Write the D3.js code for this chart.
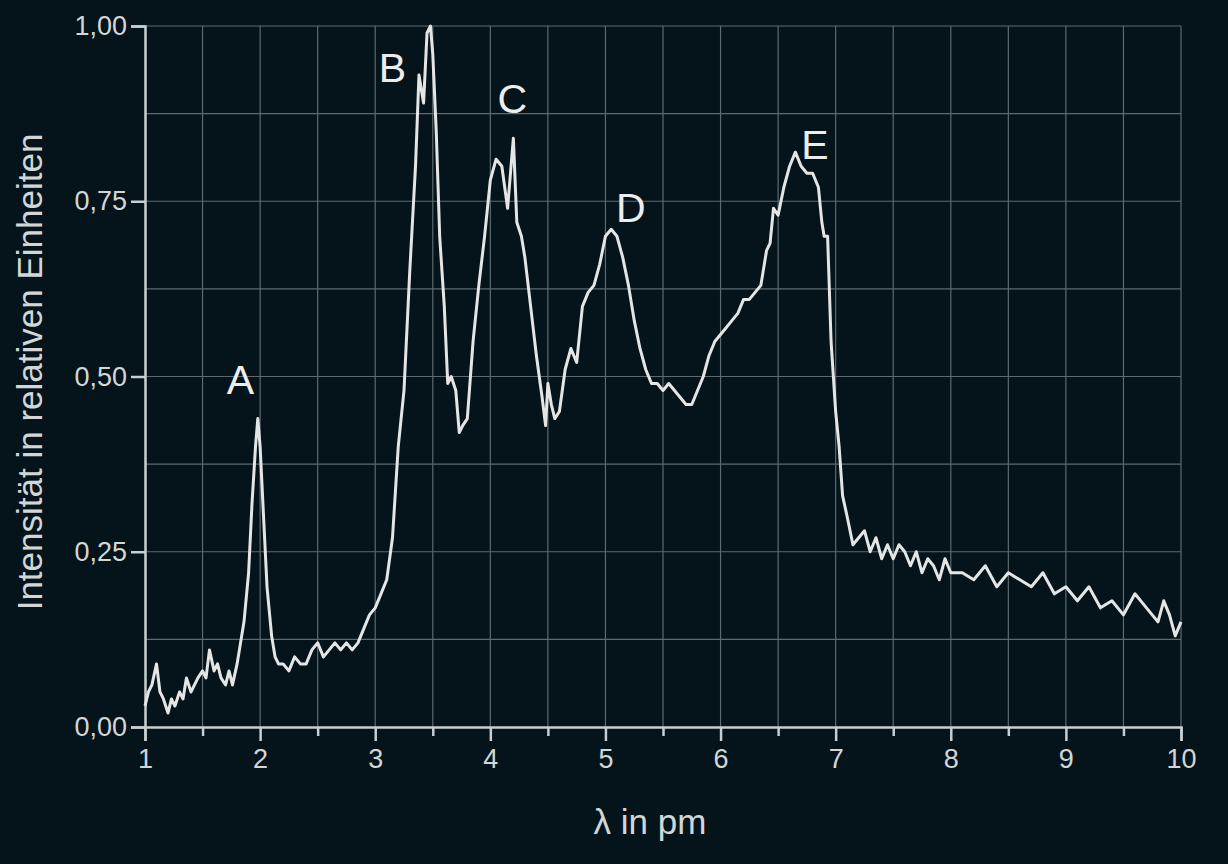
<!DOCTYPE html>
<html>
<head>
<meta charset="utf-8">
<script src="https://cdn.jsdelivr.net/npm/d3@7"></script>
<style>
  body { margin: 0; background: #04141a; }
  svg { display: block; }
  text { font-family: "Liberation Sans", Arial, sans-serif; }
</style>
</head>
<body>
<svg width="1228" height="864"></svg>
<script>
// wavelength (pm) and relative intensity
var lambda = [1.0,1.03,1.06,1.1,1.13,1.16,1.2,1.23,1.26,1.3,1.33,1.36,1.4,1.43,1.46,1.5,1.53,1.56,1.6,1.63,1.66,1.7,1.73,1.76,1.8,1.83,1.86,1.9,1.93,1.96,1.98,2.0,2.03,2.06,2.1,2.13,2.16,2.2,2.25,2.3,2.35,2.4,2.45,2.5,2.55,2.6,2.65,2.7,2.75,2.8,2.85,2.9,2.95,3.0,3.05,3.1,3.15,3.2,3.25,3.3,3.35,3.38,3.42,3.45,3.48,3.5,3.53,3.56,3.6,3.63,3.66,3.7,3.73,3.76,3.8,3.85,3.9,3.95,4.0,4.05,4.1,4.15,4.18,4.2,4.23,4.27,4.3,4.35,4.4,4.45,4.48,4.5,4.53,4.56,4.6,4.65,4.7,4.75,4.8,4.85,4.9,4.95,5.0,5.05,5.1,5.15,5.2,5.25,5.3,5.35,5.4,5.45,5.5,5.55,5.6,5.65,5.7,5.75,5.8,5.85,5.9,5.95,6.0,6.05,6.1,6.15,6.2,6.25,6.3,6.35,6.4,6.43,6.46,6.5,6.55,6.6,6.65,6.7,6.75,6.8,6.85,6.88,6.9,6.93,6.96,7.0,7.03,7.06,7.1,7.15,7.2,7.25,7.3,7.35,7.4,7.45,7.5,7.55,7.6,7.65,7.7,7.75,7.8,7.85,7.9,7.95,8.0,8.1,8.2,8.3,8.4,8.5,8.6,8.7,8.8,8.9,9.0,9.1,9.2,9.3,9.4,9.5,9.6,9.7,9.8,9.85,9.9,9.95,10.0];
var intensity = [0.03,0.05,0.06,0.09,0.05,0.04,0.02,0.04,0.03,0.05,0.04,0.07,0.05,0.06,0.07,0.08,0.07,0.11,0.08,0.09,0.07,0.06,0.08,0.06,0.09,0.12,0.15,0.22,0.32,0.40,0.44,0.40,0.30,0.20,0.13,0.10,0.09,0.09,0.08,0.10,0.09,0.09,0.11,0.12,0.10,0.11,0.12,0.11,0.12,0.11,0.12,0.14,0.16,0.17,0.19,0.21,0.27,0.40,0.48,0.65,0.80,0.93,0.89,0.99,1.00,0.96,0.85,0.70,0.60,0.49,0.50,0.48,0.42,0.43,0.44,0.55,0.63,0.70,0.78,0.81,0.80,0.74,0.80,0.84,0.72,0.70,0.67,0.60,0.53,0.47,0.43,0.49,0.46,0.44,0.45,0.51,0.54,0.52,0.60,0.62,0.63,0.66,0.70,0.71,0.70,0.67,0.63,0.58,0.54,0.51,0.49,0.49,0.48,0.49,0.48,0.47,0.46,0.46,0.48,0.50,0.53,0.55,0.56,0.57,0.58,0.59,0.61,0.61,0.62,0.63,0.68,0.69,0.74,0.73,0.77,0.80,0.82,0.80,0.79,0.79,0.77,0.72,0.70,0.70,0.55,0.45,0.40,0.33,0.30,0.26,0.27,0.28,0.25,0.27,0.24,0.26,0.24,0.26,0.25,0.23,0.25,0.22,0.24,0.23,0.21,0.24,0.22,0.22,0.21,0.23,0.20,0.22,0.21,0.20,0.22,0.19,0.20,0.18,0.20,0.17,0.18,0.16,0.19,0.17,0.15,0.18,0.16,0.13,0.15];

var peakNames = ["A","B","C","D","E"];
var peakX = [1.83,3.15,4.19,5.22,6.82];
var peakY = [0.475,0.92,0.876,0.72,0.81];

var xTicks = [1,2,3,4,5,6,7,8,9,10];
var yTicks = [0,0.25,0.5,0.75,1];

var svg = d3.select("svg");
var plotLeft = 145, plotRight = 1181, plotTop = 26, plotBottom = 727;

var x = d3.scaleLinear().domain([1, 10]).range([plotLeft, plotRight]);
var y = d3.scaleLinear().domain([0, 1]).range([plotBottom, plotTop]);

var gridColor = "#5d6a6e";
var axisColor = "#c9cfd0";

// grid: every half pm, every 0.125 intensity
svg.append("g").selectAll("line").data(d3.range(1.5, 10.01, 0.5)).enter().append("line")
    .attr("x1", d => x(d)).attr("x2", d => x(d))
    .attr("y1", plotTop).attr("y2", plotBottom)
    .attr("stroke", gridColor).attr("stroke-width", 1.2);
svg.append("g").selectAll("line").data(d3.range(0.125, 1.001, 0.125)).enter().append("line")
    .attr("x1", plotLeft).attr("x2", plotRight)
    .attr("y1", d => y(d)).attr("y2", d => y(d))
    .attr("stroke", gridColor).attr("stroke-width", 1.2);

// axes
svg.append("g").attr("class", "ax").attr("transform", "translate(0," + plotBottom + ")")
    .call(d3.axisBottom(x).tickValues(xTicks).tickFormat(d3.format("d")).tickSize(14).tickPadding(8));
svg.append("g").attr("transform", "translate(0," + plotBottom + ")")
    .call(d3.axisBottom(x).tickValues(d3.range(1.5, 10, 1)).tickFormat("").tickSize(9))
    .select(".domain").remove();
svg.append("g").attr("class", "ax").attr("transform", "translate(" + plotLeft + ",0)")
    .call(d3.axisLeft(y).tickValues(yTicks).tickFormat(d => d3.format(".2f")(d).replace(".", ",")).tickSize(14).tickPadding(4));

svg.selectAll(".ax").attr("font-size", 27).attr("font-family", null);
svg.selectAll(".domain, .tick line").attr("stroke", axisColor).attr("stroke-width", 2.5);
svg.selectAll(".tick text").attr("fill", "#d2d6d7");

// curve
var line = d3.line().x((d, i) => x(lambda[i])).y(d => y(d));
svg.append("path").datum(intensity)
    .attr("d", line)
    .attr("fill", "none")
    .attr("stroke", "#e4e6e6")
    .attr("stroke-width", 3)
    .attr("stroke-linejoin", "round");

// peak labels
svg.append("g").selectAll("text").data(peakNames).enter().append("text")
    .attr("x", (d, i) => x(peakX[i]))
    .attr("y", (d, i) => y(peakY[i]))
    .attr("text-anchor", "middle")
    .attr("fill", "#eceeee")
    .attr("font-size", 41)
    .attr("font-weight", 500)
    .text(d => d);

// axis titles
svg.append("text")
    .attr("x", 650).attr("y", 834)
    .attr("text-anchor", "middle").attr("fill", "#d2d6d7")
    .attr("font-size", 35)
    .text("λ in pm");
svg.append("text")
    .attr("transform", "translate(42," + 372 + ") rotate(-90)")
    .attr("text-anchor", "middle").attr("fill", "#d2d6d7")
    .attr("font-size", 35)
    .text("Intensität in relativen Einheiten");
</script>
</body>
</html>
